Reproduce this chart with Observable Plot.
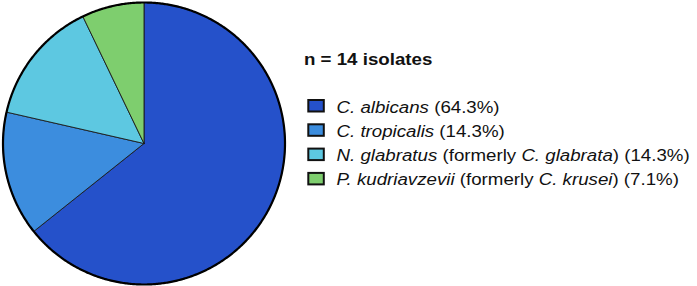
<!DOCTYPE html>
<html><head><meta charset="utf-8">
<script src="https://cdn.jsdelivr.net/npm/d3@7"></script>
<script src="https://cdn.jsdelivr.net/npm/@observablehq/plot@0.6"></script>
<style>html,body{margin:0;padding:0;background:#fff;} #chart svg{display:block;}</style>
</head><body><div id="chart"></div>
<script>
const title = "n = 14 isolates";
const species = ["C. albicans", "C. tropicalis", "N. glabratus", "P. kudriavzevii"];
const counts = [9, 2, 2, 1];
const percents = ["64.3%", "14.3%", "14.3%", "7.1%"];
const formerly = ["", "", "C. glabrata", "C. krusei"];
const colors = ["#2551CA", "#3C8DDE", "#5DC8E1", "#7ECE6E"];

const rows = species.map((s, i) => ({species: s, count: counts[i]}));
const arcs = d3.pie().sort(null).value(d => d.count)(rows);
const step = Math.PI / 360;
const slicePts = [], ringPts = [];
arcs.forEach(a => {
  const n = Math.max(2, Math.ceil((a.endAngle - a.startAngle) / step));
  slicePts.push({species: a.data.species, x: 0, y: 0});
  for (let k = 0; k <= n; k++) {
    const t = a.startAngle + (a.endAngle - a.startAngle) * k / n;
    slicePts.push({species: a.data.species, x: Math.sin(t), y: Math.cos(t)});
    ringPts.push({x: Math.sin(t), y: Math.cos(t)});
  }
  slicePts.push({species: a.data.species, x: 0, y: 0});
});

const chart = Plot.plot({
  width: 697, height: 286, margin: 0,
  x: {domain: [-1, 1], range: [2.5, 284.5], axis: null},
  y: {domain: [-1, 1], range: [284, 2], axis: null},
  color: {domain: species, range: colors},
  marks: [
    Plot.line(slicePts, {x: "x", y: "y", z: "species", fill: "species", stroke: "#1a1a1a", strokeWidth: 0.9, strokeLinejoin: "round"}),
    Plot.line(ringPts, {x: "x", y: "y", stroke: "#000", strokeWidth: 2.2})
  ]
});
document.getElementById("chart").appendChild(chart);

const cs = chart.scale("color");
const colorOf = d3.scaleOrdinal(cs.domain, cs.range);
const svg = d3.select(chart);
const font = "'Liberation Sans', Arial, Helvetica, sans-serif";
const sx = 1.1;
const g = svg.append("g").attr("font-family", font).attr("fill", "#111").attr("text-anchor", "start");
g.append("text")
  .attr("transform", `translate(304,65) scale(${sx},1)`)
  .attr("font-size", 17).attr("font-weight", "bold")
  .text(title);
species.forEach((s, i) => {
  const base = 112.5 + i * 24.3;
  g.append("rect")
    .attr("x", 308.3).attr("y", base - 12.5).attr("width", 15.5).attr("height", 11.5)
    .attr("fill", colorOf(s)).attr("stroke", "#111").attr("stroke-width", 2);
  const t = g.append("text")
    .attr("transform", `translate(336.5,${base}) scale(${sx},1)`)
    .attr("font-size", 17);
  t.append("tspan").attr("font-style", "italic").text(s);
  if (formerly[i]) {
    t.append("tspan").text(" (formerly ");
    t.append("tspan").attr("font-style", "italic").text(formerly[i]);
    t.append("tspan").text(")");
  }
  t.append("tspan").text(` (${percents[i]})`);
});
</script>
</body></html>
